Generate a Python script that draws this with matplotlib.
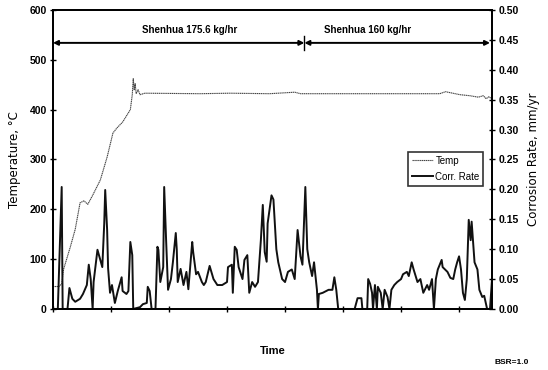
import matplotlib
matplotlib.use("Agg")
import matplotlib.pyplot as plt

plt.rcParams['font.family'] = ['Liberation Sans Narrow', 'Liberation Sans', 'DejaVu Sans']

# time in minutes (x axis carries no labels in the original)
temp_time = [0, 6, 9, 11, 18, 23, 28, 32, 36, 41, 49, 56, 62, 66, 72, 80, 82, 83, 84, 85,
             86, 88, 90, 95, 152, 183, 224, 250, 256, 307, 359, 400, 406, 411, 421, 431,
             440, 445, 448, 451, 454]
temp_vals = [45, 45, 50, 80, 125, 160, 213, 217, 210, 228, 259, 305, 353, 363, 375, 400, 430,
             462, 440, 452, 432, 440, 430, 433, 432, 433, 432, 435, 432, 432, 432, 432, 436,
             434, 430, 428, 425, 428, 422, 426, 421]

corr_time = [0, 5, 9, 10, 15, 17, 20, 23, 28, 31, 35, 37, 39, 41, 42, 46, 49, 51, 53, 54,
             56, 57, 59, 61, 64, 67, 71, 72, 76, 78, 80, 82, 83, 90, 93, 97, 98, 100, 102,
             106, 108, 109, 111, 114, 115, 117, 119, 122, 124, 127, 128, 129, 132, 135, 138,
             140, 144, 145, 148, 150, 154, 156, 158, 162, 166, 170, 175, 180, 181, 185, 186,
             188, 190, 192, 196, 198, 201, 203, 206, 209, 212, 215, 217, 219, 221, 222, 226,
             228, 231, 233, 237, 240, 243, 247, 250, 253, 256, 258, 261, 263, 265, 268, 270,
             273, 274, 275, 279, 285, 289, 291, 293, 295, 312, 315, 319, 320, 325, 326, 328,
             330, 331, 333, 335, 336, 339, 341, 343, 346, 348, 350, 353, 356, 360, 362, 366,
             368, 371, 373, 377, 380, 383, 387, 389, 392, 394, 396, 398, 402, 403, 408, 411,
             414, 416, 418, 420, 422, 424, 426, 428, 430, 432, 433, 436, 439, 441, 444, 446,
             449, 452, 454]
corr_vals = [0, 0, 0.204, 0, 0, 0.035, 0.017, 0.012, 0.017, 0.025, 0.04, 0.074, 0.05, 0, 0.045,
             0.099, 0.082, 0.07, 0.143, 0.199, 0.132, 0.068, 0.027, 0.04, 0.01, 0.03, 0.053,
             0.03, 0.025, 0.03, 0.112, 0.09, 0, 0.003, 0.008, 0.01, 0.037, 0.03, 0, 0, 0.104,
             0.099, 0.045, 0.07, 0.204, 0.115, 0.032, 0.05, 0.078, 0.127, 0.1, 0.045, 0.067,
             0.04, 0.062, 0.033, 0.112, 0.095, 0.058, 0.062, 0.045, 0.04, 0.045, 0.072, 0.05,
             0.04, 0.04, 0.045, 0.07, 0.074, 0.027, 0.104, 0.099, 0.07, 0.05, 0.082, 0.09,
             0.027, 0.045, 0.037, 0.045, 0.115, 0.174, 0.095, 0.079, 0.143, 0.19, 0.183, 0.1,
             0.078, 0.05, 0.045, 0.062, 0.066, 0.05, 0.132, 0.088, 0.074, 0.204, 0.1, 0.078,
             0.055, 0.078, 0.032, 0, 0.025, 0.027, 0.032, 0.032, 0.053, 0.032, 0, 0, 0.018,
             0.018, 0, 0, 0.05, 0.042, 0.027, 0, 0.04, 0, 0.037, 0.027, 0, 0.032, 0.02, 0,
             0.032, 0.04, 0.045, 0.05, 0.058, 0.062, 0.055, 0.078, 0.066, 0.045, 0.05, 0.027,
             0.04, 0.032, 0.05, 0, 0.05, 0.066, 0.082, 0.07, 0.062, 0.052, 0.05, 0.066, 0.078,
             0.088, 0.066, 0.027, 0.015, 0.05, 0.149, 0.115, 0.146, 0.078, 0.066, 0.032, 0.02,
             0.022, 0, 0, 0.048]

phase_labels = ['Shenhua 175.6 kg/hr', 'Shenhua 160 kg/hr']
phase_bounds = [0, 260, 452]

fig = plt.figure(figsize=(5.48, 3.70), dpi=100)
ax1 = fig.add_axes([0.0967, 0.165, 0.801, 0.808])
ax2 = ax1.twinx()

l1, = ax1.plot(temp_time, temp_vals, color='#444444', lw=0.8, ls=(0, (1.2, 0.5)), label='Temp')
l2, = ax2.plot(corr_time, corr_vals, color='#111111', lw=1.4, label='Corr. Rate')

ax1.set_xlim(0, 454)
ax1.set_ylim(0, 600)
ax2.set_ylim(0, 0.5)
ax1.set_xticks(range(0, 454, 60))
ax1.set_xticklabels([])
ax1.set_yticks(range(0, 601, 100))
ax2.set_yticks([i * 0.05 for i in range(11)])
ax2.set_yticklabels(['%.2f' % (i * 0.05) for i in range(11)])

for ax in (ax1, ax2):
    ax.tick_params(direction='inout', length=5, width=1.0, labelsize=7.5, pad=2)
    for s in ax.spines.values():
        s.set_linewidth(1.3)
for lab in ax1.get_yticklabels() + ax2.get_yticklabels():
    lab.set_fontweight('bold')

ax1.set_ylabel('Temperature, °C', fontsize=8.5, labelpad=6, family='DejaVu Sans')
ax2.set_ylabel('Corrosion Rate, mm/yr', fontsize=8.5, labelpad=6, family='DejaVu Sans')
ax1.set_xlabel('Time', fontsize=8, labelpad=22, fontweight='bold')

# phase arrows, labels sit left of each span's middle as in the original
arrow_y = 534
label_x = [141, 325]
for i, lab in enumerate(phase_labels):
    a, b = phase_bounds[i], phase_bounds[i + 1]
    ax1.annotate('', xy=(a, arrow_y), xytext=(b, arrow_y),
                 arrowprops=dict(arrowstyle='<|-|>', color='black', lw=1.4,
                                 mutation_scale=7, shrinkA=0, shrinkB=0))
    ax1.text(label_x[i], 560, lab, ha='center', va='center', fontsize=7, fontweight='bold')
ax1.plot([phase_bounds[1], phase_bounds[1]], [520, 548], color='black', lw=1.0)

leg = ax1.legend(handles=[l1, l2], loc='upper left', bbox_to_anchor=(0.809, 0.525),
                 borderaxespad=0, fontsize=7, frameon=True, fancybox=False,
                 handlelength=2.2, handletextpad=0.2, borderpad=0.4, labelspacing=0.6)
leg.get_frame().set_edgecolor('black')
leg.get_frame().set_linewidth(1.2)

fig.text(0.965, 0.012, 'BSR=1.0', fontsize=6, ha='right', va='bottom', fontweight='bold')

fig.savefig('out.png', dpi=100)
